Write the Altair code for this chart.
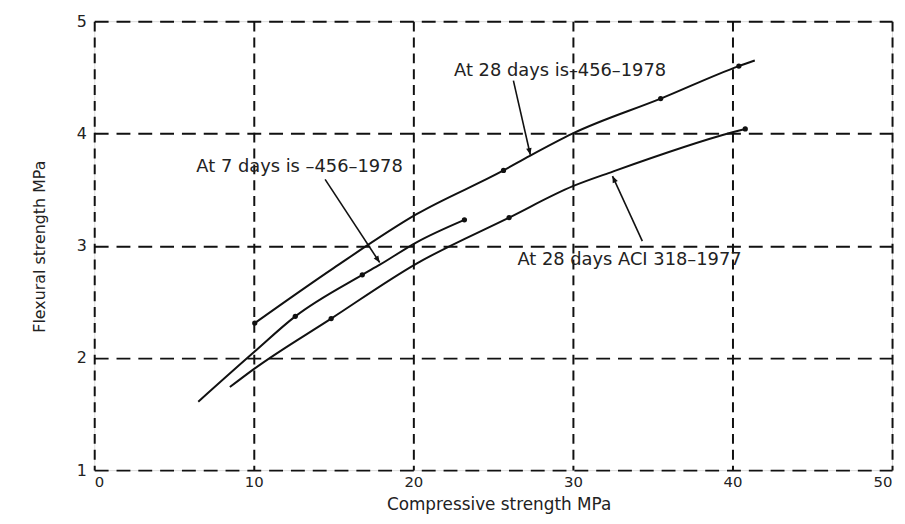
import math
import altair as alt
import pandas as pd

# ---- data ----
up_x = [10.06, 15.0, 20.2, 25.65, 27.3, 30.0, 35.5, 40.4, 41.4]
up_y = [2.31, 2.80, 3.28, 3.67, 3.80, 4.00, 4.31, 4.60, 4.65]

mid_x = [6.52, 10.0, 12.6, 16.8, 17.9, 20.2, 23.2]
mid_y = [1.61, 2.05, 2.37, 2.74, 2.83, 3.03, 3.23]

low_x = [8.5, 10.0, 14.85, 20.2, 26.0, 30.0, 32.5, 40.0, 40.8]
low_y = [1.74, 1.90, 2.35, 2.84, 3.25, 3.53, 3.66, 4.01, 4.04]

mark_x = [10.06, 25.65, 35.5, 40.4, 12.6, 16.8, 23.2, 14.85, 26.0, 40.8]
mark_y = [2.31, 3.67, 4.31, 4.60, 2.37, 2.74, 3.23, 2.35, 3.25, 4.04]

labels = ["At 28 days is\u2013456\u20131978", "At 7 days  is \u2013456\u20131978", "At 28 days ACI 318\u20131977"]
label_x = [22.55, 6.4, 26.52]
label_y = [4.56, 3.70, 2.87]

arrow_x1 = [26.27, 14.47, 34.35]
arrow_y1 = [4.47, 3.59, 3.04]
arrow_x2 = [27.33, 17.89, 32.48]
arrow_y2 = [3.81, 2.85, 3.62]

x_ticks = [0, 10, 20, 30, 40, 50]
y_ticks = [1, 2, 3, 4, 5]

W, H = 805, 453
FONT = "DejaVu Sans"

curves = pd.DataFrame(
    [{"s": "up", "i": i, "x": a, "y": b} for i, (a, b) in enumerate(zip(up_x, up_y))]
    + [{"s": "mid", "i": i, "x": a, "y": b} for i, (a, b) in enumerate(zip(mid_x, mid_y))]
    + [{"s": "low", "i": i, "x": a, "y": b} for i, (a, b) in enumerate(zip(low_x, low_y))]
)
marks = pd.DataFrame({"x": mark_x, "y": mark_y})
texts = pd.DataFrame({"t": labels, "x": label_x, "y": label_y})

px_x = W / 50.0
px_y = H / 4.0
angles = []
for x1, y1, x2, y2 in zip(arrow_x1, arrow_y1, arrow_x2, arrow_y2):
    dx = (x2 - x1) * px_x
    dy = -(y2 - y1) * px_y
    angles.append(math.degrees(math.atan2(dx, -dy)) % 360)
arrows = pd.DataFrame({"x1": arrow_x1, "y1": arrow_y1, "x2": arrow_x2, "y2": arrow_y2, "ang": angles})

xs = alt.Scale(domain=[0, 50], nice=False)
ys = alt.Scale(domain=[1, 5], nice=False)

xax = alt.Axis(values=x_ticks, format="d", grid=True, gridColor="#111", gridDash=[10, 6], gridWidth=2,
               ticks=False, domain=False, labelFont=FONT, labelFontSize=15, labelColor="#222",
               labelPadding=5, title="Compressive strength MPa", titleFont=FONT,
               titleFontSize=17, titleFontWeight="normal", titleColor="#222",
               titleX=408, titleY=35, titleBaseline="middle", titleAlign="center")
yax = alt.Axis(values=y_ticks, format="d", grid=True, gridColor="#111", gridDash=[14, 8], gridWidth=2,
               ticks=False, domain=False, labelFont=FONT, labelFontSize=16, labelColor="#222",
               labelPadding=8, title="Flexural strength MPa", titleFont=FONT,
               titleFontSize=16, titleFontWeight="normal", titleColor="#222",
               titleX=-55, titleY=227, titleBaseline="middle", titleAlign="center", titleAngle=270)

base_lines = alt.Chart(curves).mark_line(color="#111", strokeWidth=2, interpolate="monotone").encode(
    x=alt.X("x:Q", scale=xs, axis=xax),
    y=alt.Y("y:Q", scale=ys, axis=yax),
    detail="s:N",
    order="i:Q",
)

dots = alt.Chart(marks).mark_circle(color="#111", size=28, opacity=1).encode(
    x=alt.X("x:Q", scale=xs), y=alt.Y("y:Q", scale=ys)
)

arrow_lines = alt.Chart(arrows).mark_rule(color="#111", strokeWidth=1.6).encode(
    x=alt.X("x1:Q", scale=xs), y=alt.Y("y1:Q", scale=ys), x2="x2:Q", y2="y2:Q"
)

heads = alt.Chart(arrows).mark_point(
    shape="M0,0L0.42,1L-0.42,1Z", filled=True, color="#111", size=180, opacity=1
).encode(
    x=alt.X("x2:Q", scale=xs), y=alt.Y("y2:Q", scale=ys), angle=alt.Angle("ang:Q", scale=None)
)

txt = alt.Chart(texts).mark_text(
    align="left", baseline="middle", font=FONT, fontSize=18, color="#222"
).encode(x=alt.X("x:Q", scale=xs), y=alt.Y("y:Q", scale=ys), text="t:N")

chart = alt.layer(base_lines, dots, arrow_lines, heads, txt).properties(
    width=W, height=H,
    autosize=alt.AutoSizeParams(type="none"),
    padding={"left": 87, "top": 11, "right": 5, "bottom": 44},
).configure_view(stroke="#111", strokeWidth=2.5).configure(background="white")

chart.save("out.html", embed_options={"renderer": "svg", "actions": False})
